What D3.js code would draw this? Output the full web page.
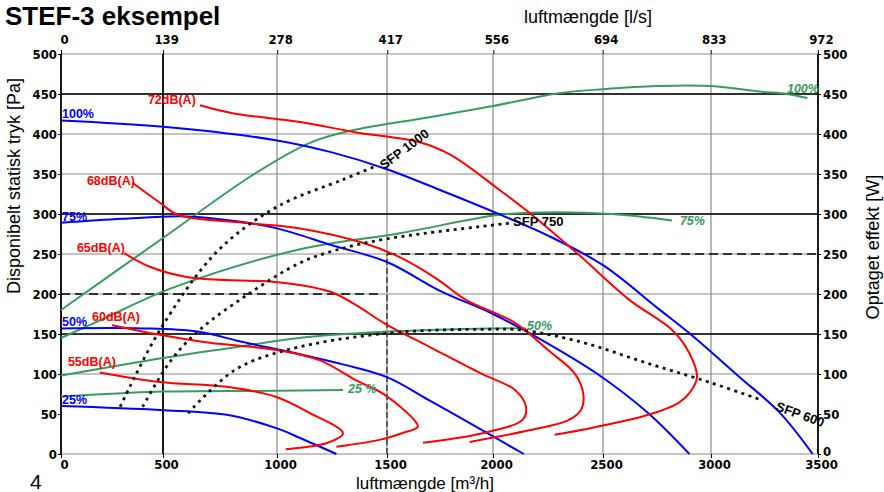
<!DOCTYPE html>
<html>
<head>
<meta charset="utf-8">
<script src="https://cdn.jsdelivr.net/npm/d3@7"></script>
<style>
  body { margin: 0; background: #fff; }
  svg text { font-family: "Liberation Sans", Arial, sans-serif; }
  .tk text, .lbl { font-family: "Liberation Sans Narrow", "DejaVu Sans Condensed", sans-serif; font-weight: bold; }
</style>
</head>
<body>
<svg id="canvas" width="884" height="492"></svg>
<script>
// akser
const xTicks = [0, 500, 1000, 1500, 2000, 2500, 3000, 3500];      // m3/h
const topTicks = [0, 139, 278, 417, 556, 694, 833, 972];           // l/s
const yTicks = [0, 50, 100, 150, 200, 250, 300, 350, 400, 450, 500];

// ventilatorkurver (blå) [m3/h, Pa]
const fan100 = [[0,417],[500,409],[1000,392],[1250,377],[1500,356],[1750,330],[2000,303],[2250,273],[2500,236],[2750,183],[2900,151],[3130,97],[3320,52],[3475,0]];
const fan75 = [[0,289],[300,294],[600,297],[850,290],[1000,282],[1250,261],[1500,240],[1750,204],[2000,175],[2250,138],[2470,101],[2710,51],[2900,0]];
const fan50 = [[0,157],[400,157],[650,153],[850,140],[1100,125],[1300,112],[1500,96],[1700,67],[1940,31],[2140,0]];
const fan25 = [[0,60],[485,55],[780,49],[1000,32],[1105,20],[1270,0]];
const fanNames = ["100%", "75%", "50%", "25%"];

// effektkurver (grøn) [m3/h, W]
const pow100 = [[0,180],[500,270],[900,350],[1150,389],[1350,405],[1700,421],[2000,435],[2300,451],[2500,456],[2750,460],[3000,460],[3230,453],[3355,450],[3450,445]];
const pow75 = [[0,145],[191,167],[535,207],[1105,256],[1560,276],[2030,299],[2220,302],[2540,300],[2820,292]];
const pow50 = [[0,98],[500,120],[780,132],[1100,145],[1500,153],[2000,157],[2150,157]];
const pow25 = [[0,72],[300,76],[500,78],[1000,79],[1300,80]];
const powNames = ["100%", "75%", "50%", "25 %"];
const powLabelAt = [[3355,451],[2856,286],[2155,155],[1323,76]];

// lydniveau (rød) [m3/h, Pa]
const db72 = [[662,436],[805,426],[1105,415],[1360,402],[1650,390],[1800,374],[2030,330],[2190,296],[2390,249],[2625,192],[2820,155],[2900,126],[2935,96],[2900,76],[2850,64],[2710,49],[2400,30],[2280,24]];
const db68 = [[350,339],[485,314],[565,299],[850,289],[1105,282],[1390,264],[1560,246],[1740,218],[1870,193],[2100,164],[2250,130],[2370,101],[2410,76],[2400,55],[2340,42],[2170,30],[1890,15]];
const db65 = [[310,251],[435,234],[610,221],[990,215],[1150,209],[1260,201],[1360,186],[1490,163],[1700,134],[1940,101],[2100,80],[2150,59],[2135,43],[1950,26],[1670,14]];
const db60 = [[250,161],[485,149],[705,139],[1000,130],[1195,117],[1360,92],[1490,74],[1630,42],[1645,34],[1570,26],[1470,18],[1270,9]];
const db55 = [[190,102],[485,90],[780,84],[1000,71],[1150,51],[1300,26],[1230,14],[1040,6]];
const dbNames = ["72dB(A)", "68dB(A)", "65dB(A)", "60dB(A)", "55dB(A)"];
const dbLabelAt = [[426,437],[127,336],[78,252],[152,166],[34,110]];

// SFP (sort prikket)
const sfp1000 = [[290,59],[485,155],[737,253],[1000,309],[1300,343],[1450,360]];
const sfp750 = [[400,59],[535,117],[660,155],[880,201],[1105,239],[1270,255],[1500,269],[2090,289]];
const sfp600 = [[610,51],[815,105],[1045,130],[1500,151],[2000,156],[2130,155],[2400,140],[2700,114],[3000,89],[3230,68]];
const sfpNames = ["SFP 1000", "SFP 750", "SFP 600"];
const sfpLabelAt = [[1486,355],[2091,285],[3299,55]];
const sfpAngle = [-37, 0, 20];

const blue = "#0000ff", red = "#ff0000", green = "#3a9a60";

const svg = d3.select("#canvas");

// skalaer (originalens gitter er ikke helt jævnt)
const x = d3.scaleLinear().domain(xTicks).range([61, 163, 277, 387, 493, 603, 711, 818]);
const xTop = d3.scaleLinear().domain(xTicks.map(d => d / 3.6)).range(x.range());
const y = d3.scaleLinear().domain([0, 500]).range([454, 54]);

const x0 = x(0), x1 = x(3500);

// gråt gitter
const g = svg.append("g");
g.selectAll(".hg").data(yTicks.filter(d => d !== 50)).enter().append("line")
  .attr("x1", x0).attr("x2", x1).attr("y1", d => y(d)).attr("y2", d => y(d))
  .attr("stroke", "#8a8a8a").attr("stroke-width", 1.2);
g.selectAll(".vg").data([1000, 1500, 2000, 2500, 3000]).enter().append("line")
  .attr("x1", d => x(d)).attr("x2", d => x(d)).attr("y1", y(0)).attr("y2", y(500))
  .attr("stroke", "#8a8a8a").attr("stroke-width", 1.2);

// sorte hjælpelinjer
g.selectAll(".hb").data([150, 300, 450]).enter().append("line")
  .attr("x1", x0).attr("x2", x1).attr("y1", d => y(d)).attr("y2", d => y(d))
  .attr("stroke", "#000").attr("stroke-width", 1.6);
g.append("line").attr("x1", x(500)).attr("x2", x(500)).attr("y1", y(0)).attr("y2", y(500))
  .attr("stroke", "#000").attr("stroke-width", 1.8);
g.append("line").attr("x1", x0).attr("x2", x(1480)).attr("y1", y(200)).attr("y2", y(200))
  .attr("stroke", "#000").attr("stroke-width", 1.6).attr("stroke-dasharray", "9,5");
g.append("line").attr("x1", x(1500)).attr("x2", x1).attr("y1", y(250)).attr("y2", y(250))
  .attr("stroke", "#000").attr("stroke-width", 1.6).attr("stroke-dasharray", "9,5");
g.append("line").attr("x1", x(1500)).attr("x2", x(1500)).attr("y1", y(0)).attr("y2", y(250))
  .attr("stroke", "#444").attr("stroke-width", 1.6).attr("stroke-dasharray", "6,3");

// akser
const tk = svg.append("g").attr("class", "tk");
const styleAxis = a => {
  a.select(".domain").remove();
  a.selectAll("text").attr("font-size", 13).attr("fill", "#000");
  a.selectAll("line").attr("stroke", "#000");
};
tk.append("g").attr("transform", `translate(0,${y(0)})`)
  .call(d3.axisBottom(x).tickValues(xTicks).tickFormat(d3.format("d")).tickSize(4).tickPadding(2)).call(styleAxis)
  .selectAll("text").attr("dx", 3);
tk.append("g").attr("transform", `translate(0,${y(500)})`)
  .call(d3.axisTop(xTop).tickValues(topTicks).tickFormat(d3.format("d")).tickSize(4).tickPadding(6)).call(styleAxis)
  .selectAll("text").attr("dx", 3);
tk.append("g").attr("transform", `translate(${x0},0)`)
  .call(d3.axisLeft(y).tickValues(yTicks).tickSize(3).tickPadding(1)).call(styleAxis);
tk.append("g").attr("transform", `translate(${x1},0)`)
  .call(d3.axisRight(y).tickValues(yTicks).tickSize(3).tickPadding(2)).call(styleAxis)
  .selectAll("text").attr("dy", d => d === 0 ? "0.1em" : "0.32em");
svg.append("line").attr("x1", x0).attr("x2", x0).attr("y1", y(0)).attr("y2", y(500)).attr("stroke", "#000").attr("stroke-width", 1.8);
svg.append("line").attr("x1", x1).attr("x2", x1).attr("y1", y(0)).attr("y2", y(500)).attr("stroke", "#000").attr("stroke-width", 1.8);

// kurver
const line = d3.line().x(d => x(d[0])).y(d => y(d[1])).curve(d3.curveCatmullRom.alpha(0.5));
const plot = svg.append("g").attr("fill", "none").attr("stroke-linejoin", "round");

plot.selectAll(".pow").data([pow100, pow75, pow50, pow25]).enter().append("path")
  .attr("d", line).attr("stroke", green).attr("stroke-width", 2);
plot.selectAll(".fan").data([fan100, fan75, fan50, fan25]).enter().append("path")
  .attr("d", line).attr("stroke", blue).attr("stroke-width", 2);
plot.selectAll(".db").data([db72, db68, db65, db60, db55]).enter().append("path")
  .attr("d", line).attr("stroke", red).attr("stroke-width", 2);
plot.selectAll(".sfp").data([sfp1000, sfp750, sfp600]).enter().append("path")
  .attr("d", line).attr("stroke", "#111").attr("stroke-width", 2.8).attr("stroke-dasharray", "3,4.5");

// kurvetekster
const lbl = svg.append("g").attr("class", "lbl").attr("font-size", 12.5);
lbl.selectAll(".fl").data([fan100, fan75, fan50, fan25]).enter().append("text")
  .attr("x", d => x(d[0][0]) + 1).attr("y", d => y(d[0][1]) - 2)
  .attr("fill", blue).text((d, i) => fanNames[i]);
lbl.selectAll(".pl").data(powLabelAt).enter().append("text")
  .attr("x", d => x(d[0])).attr("y", d => y(d[1]))
  .attr("fill", green).attr("font-style", "italic").text((d, i) => powNames[i]);
lbl.selectAll(".dl").data(dbLabelAt).enter().append("text")
  .attr("x", d => x(d[0])).attr("y", d => y(d[1]))
  .attr("fill", red).text((d, i) => dbNames[i]);
lbl.selectAll(".sl").data(sfpLabelAt).enter().append("text")
  .attr("transform", (d, i) => `translate(${x(d[0])},${y(d[1])}) rotate(${sfpAngle[i]})`)
  .attr("fill", "#000").attr("font-size", 13).text((d, i) => sfpNames[i]);

// titler
svg.append("text").attr("x", 5).attr("y", 25).attr("font-size", 26).attr("font-weight", "bold").text("STEF-3 eksempel");
svg.append("text").attr("x", 588).attr("y", 23).attr("text-anchor", "middle").attr("font-size", 18).text("luftmængde [l/s]");
svg.append("text").attr("x", 425).attr("y", 489).attr("text-anchor", "middle").attr("font-size", 17).text("luftmængde [m³/h]");
svg.append("text").attr("transform", "translate(20,186) rotate(-90)").attr("text-anchor", "middle").attr("font-size", 18).text("Disponibelt  statisk tryk [Pa]");
svg.append("text").attr("transform", "translate(879,247) rotate(-90)").attr("text-anchor", "middle").attr("font-size", 18).text("Optaget effekt [W]");
svg.append("text").attr("x", 30).attr("y", 489).attr("font-size", 21).text("4");
</script>
</body>
</html>
